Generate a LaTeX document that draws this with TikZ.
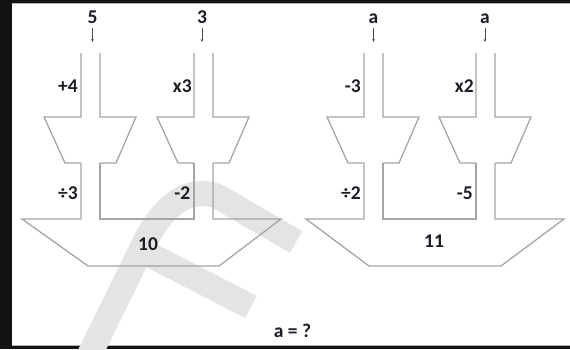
\documentclass[tikz,border=0pt]{standalone}
\usepackage{fontspec}
\setmainfont{Carlito}
\usetikzlibrary{arrows.meta}
\definecolor{pipe}{RGB}{165,165,165}
\definecolor{wmark}{RGB}{228,228,228}
\definecolor{ink}{RGB}{28,28,36}
\begin{document}
\begin{tikzpicture}[x=1pt,y=-1pt]
\tikzset{
  pipeline/.style={draw=pipe, line width=1.3pt, line join=miter},
  lbl/.style={font=\bfseries\fontsize{19.5}{19.5}\selectfont, text=ink, inner sep=0pt, anchor=base east},
  inlbl/.style={font=\bfseries\fontsize{19.5}{19.5}\selectfont, text=ink, inner sep=0pt, anchor=base},
  feed/.style={draw=ink!80, line width=0.6pt, -{Stealth[length=3pt,width=2.6pt]}, shorten <=5pt},
  wm/.style={draw=wmark, line width=25pt, line cap=butt, line join=round},
  funnel/.pic={
    \draw[pipeline] (0,53) -- (0,117) -- (-37,117) -- (-16,163) -- (0,163);
    \draw[pipeline] (19,53) -- (19,117) -- (55,117) -- (35,163) -- (19,163);
  }
}
\useasboundingbox (0,0) rectangle (570,349);
% frame
\fill[black!93] (0,0) rectangle (570,349);
\fill[white] (12,3) rectangle (570,345);
\draw[gray!60, line width=0.8pt] (12,3) -- (570,3);
\draw[gray!60, line width=0.8pt] (12,345) -- (570,345);
% watermark
\draw[wm] (88,358) -- (140,252) .. controls (160,208) and (185,186) .. (217,196) -- (296,242);
\draw[wm] (152,256) -- (251,307);
% funnels
\pic at (81,0) {funnel};
\pic at (194,0) {funnel};
\pic at (364,0) {funnel};
\pic at (476,0) {funnel};
% lower pipes and big trapezoids
\draw[pipeline] (81,163) -- (81,219) -- (22,219) -- (88,266) -- (219,266) -- (281,219) -- (213,219) -- (213,163);
\draw[pipeline] (100,163) -- (100,219) -- (194,219) -- (194,163);
\draw[pipeline] (364,163) -- (364,219) -- (306,219) -- (369,266) -- (501,266) -- (564,219) -- (495,219) -- (495,163);
\draw[pipeline] (383,163) -- (383,219) -- (476,219) -- (476,163);
% inputs
\node[inlbl] (in1) at (92.5,23) {5};
\node[inlbl] (in2) at (202,23) {3};
\node[inlbl] (in3) at (373.5,23) {a};
\node[inlbl] (in4) at (485,23) {a};
\coordinate (t1) at (92.5,42);
\coordinate (t2) at (202,42);
\coordinate (t3) at (373.5,42);
\coordinate (t4) at (485,42);
\draw[feed] (in1.south) -- (t1);
\draw[feed] (in2.south) -- (t2);
\draw[feed] (in3.south) -- (t3);
\draw[feed] (in4.south) -- (t4);
% operation labels
\node[lbl] (o1) at (78,92) {+4};
\node[lbl] (o2) at (192,92) {x3};
\node[lbl] (o3) at (361,92) {-3};
\node[lbl] (o4) at (474,92) {x2};
\node[lbl] (p1) at (78,199) {÷3};
\node[lbl] (p2) at (190.5,199) {-2};
\node[lbl] (p3) at (361,199) {÷2};
\node[lbl] (p4) at (473,199) {-5};
% results
\node[inlbl] (r1) at (148,250) {10};
\node[inlbl] (r2) at (434,247) {11};
\node[inlbl] (q) at (292.5,337) {a = ?};
\end{tikzpicture}
\end{document}
